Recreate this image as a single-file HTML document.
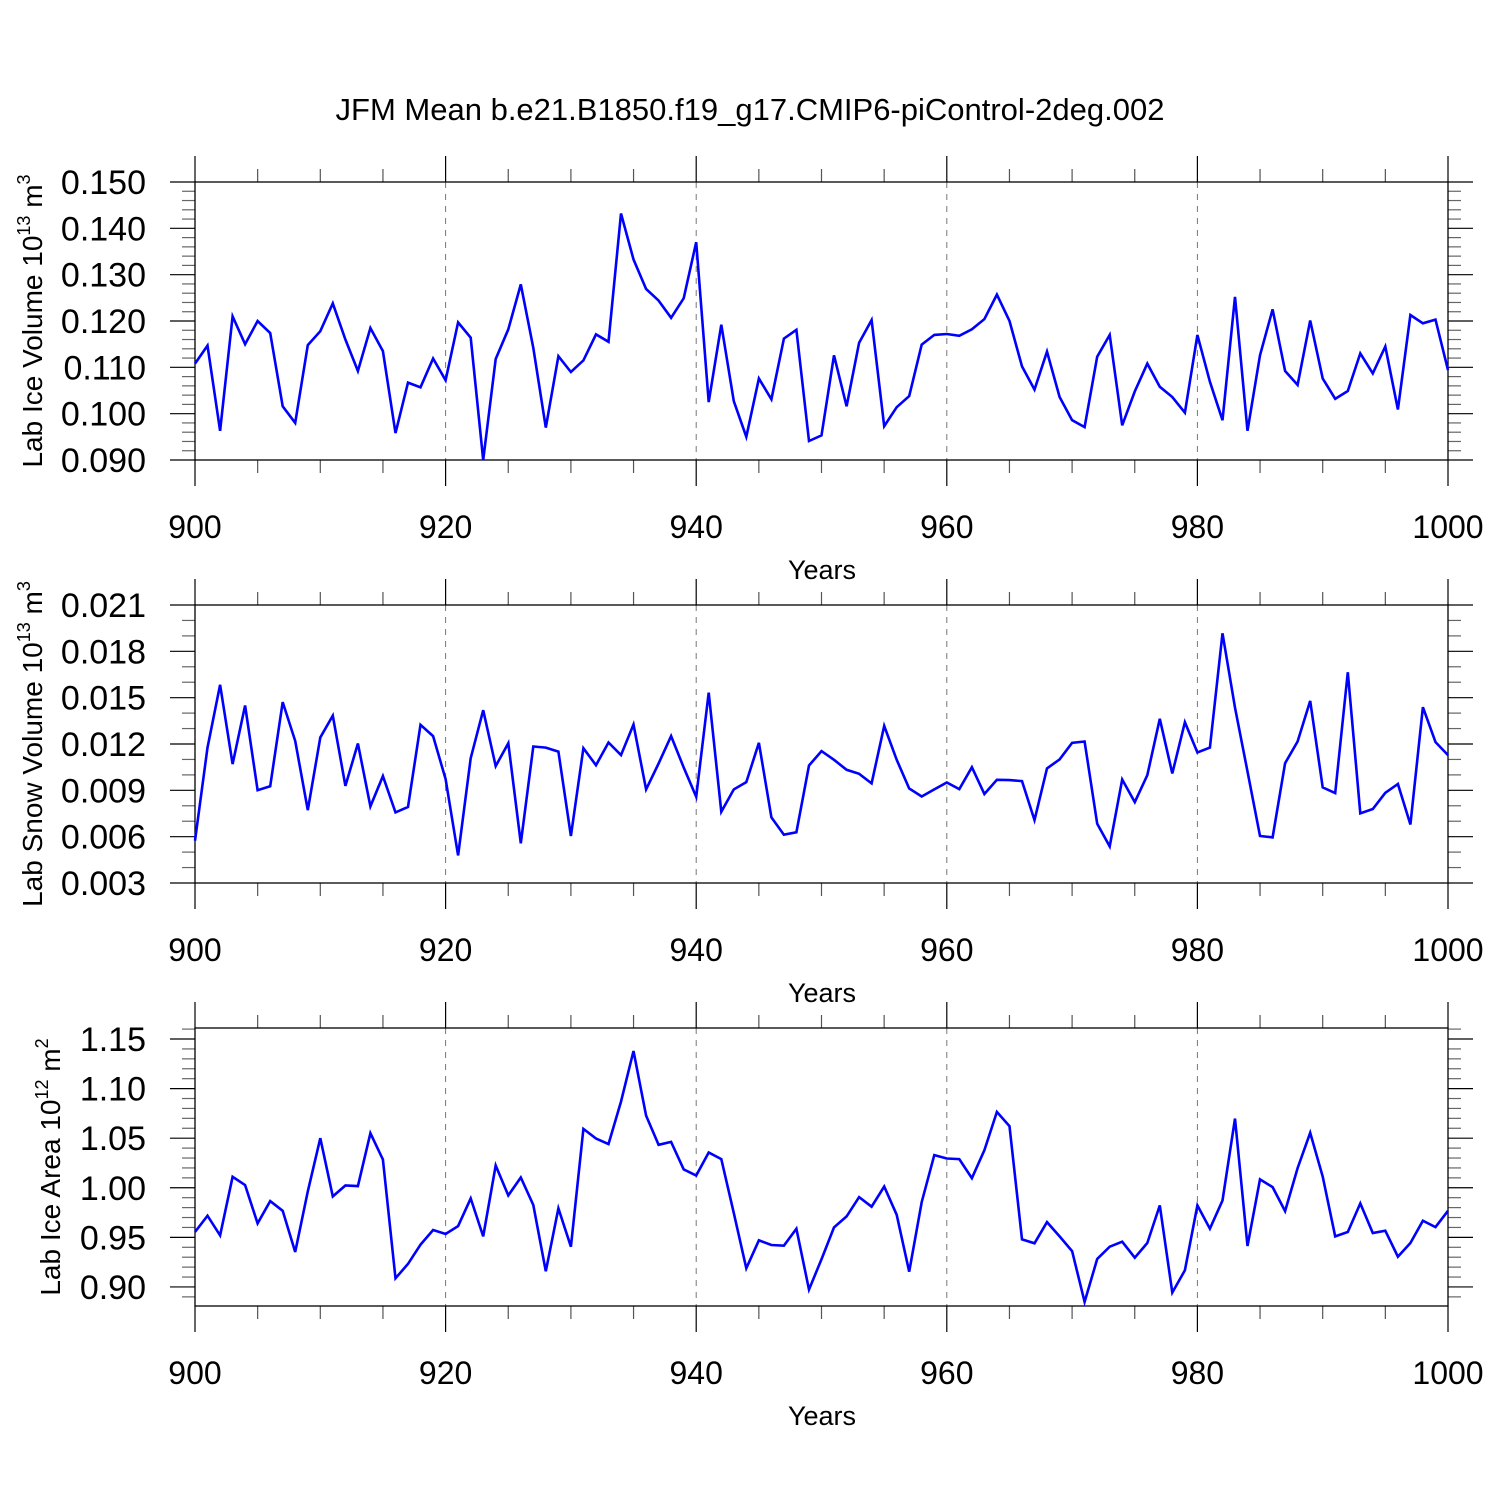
<!DOCTYPE html>
<html><head><meta charset="utf-8">
<style>
html,body{margin:0;padding:0;background:#fff;}
svg{display:block;font-family:"Liberation Sans",Arial,sans-serif;}
</style></head>
<body>
<svg id="chart" width="1500" height="1500" viewBox="0 0 1500 1500" xmlns="http://www.w3.org/2000/svg">
<rect x="0" y="0" width="1500" height="1500" fill="#fff"/>
<text x="750" y="120" font-size="31" text-anchor="middle">JFM Mean b.e21.B1850.f19_g17.CMIP6-piControl-2deg.002</text>
</svg>
<script>
const years = [];
for (let y = 900; y <= 1000; y++) years.push(y);
const iceVolume = [0.1108,0.1147,0.0963,0.1210,0.1150,0.1200,0.1174,0.1016,0.0980,0.1148,
0.1178,0.1238,0.1160,0.1092,0.1185,0.1135,0.0958,0.1067,0.1057,0.1119,
0.1072,0.1197,0.1164,0.0900,0.1118,0.1182,0.1279,0.1142,0.0970,0.1124,
0.1090,0.1115,0.1171,0.1155,0.1432,0.1333,0.1269,0.1244,0.1207,0.1249,
0.1370,0.1025,0.1192,0.1027,0.0950,0.1076,0.1031,0.1162,0.1181,0.0941,
0.0953,0.1126,0.1016,0.1153,0.1202,0.0973,0.1014,0.1038,0.1149,0.1170,
0.1172,0.1168,0.1182,0.1204,0.1257,0.1200,0.1102,0.1052,0.1134,0.1036,
0.0986,0.0971,0.1123,0.1170,0.0975,0.1048,0.1108,0.1058,0.1036,0.1002,
0.1170,0.1069,0.0986,0.1252,0.0963,0.1126,0.1225,0.1092,0.1062,0.1201,
0.1076,0.1032,0.1049,0.1130,0.1087,0.1145,0.1009,0.1213,0.1195,0.1203,0.1094];
const snowVolume = [0.00574,0.01177,0.01583,0.01070,0.01449,0.00901,0.00927,0.01471,0.01220,0.00772,
0.01242,0.01384,0.00929,0.01203,0.00796,0.00992,0.00757,0.00792,0.01324,0.01251,
0.00973,0.00479,0.01108,0.01419,0.01057,0.01205,0.00557,0.01184,0.01177,0.01151,
0.00604,0.01173,0.01063,0.01210,0.01128,0.01326,0.00906,0.01074,0.01251,0.01048,
0.00858,0.01533,0.00761,0.00906,0.00953,0.01208,0.00725,0.00613,0.00628,0.01061,
0.01154,0.01098,0.01033,0.01007,0.00945,0.01317,0.01098,0.00912,0.00860,0.00906,
0.00951,0.00908,0.01050,0.00876,0.00968,0.00966,0.00960,0.00707,0.01042,0.01100,
0.01208,0.01216,0.00684,0.00537,0.00970,0.00824,0.00998,0.01363,0.01009,0.01341,
0.01145,0.01177,0.01917,0.01436,0.01022,0.00604,0.00595,0.01076,0.01216,0.01479,
0.00919,0.00882,0.01665,0.00751,0.00779,0.00884,0.00941,0.00679,0.01438,0.01212,0.01128];
const iceArea = [0.9554,0.9718,0.9520,1.0111,1.0027,0.9641,0.9866,0.9768,0.9352,0.9963,
1.0500,0.9913,1.0023,1.0017,1.0550,1.0285,0.9087,0.9232,0.9426,0.9574,
0.9534,0.9614,0.9893,0.9510,1.0225,0.9923,1.0104,0.9826,0.9158,0.9792,
0.9406,1.0594,1.0497,1.0440,1.0869,1.1379,1.0728,1.0433,1.0463,1.0185,
1.0124,1.0356,1.0289,0.9745,0.9188,0.9470,0.9423,0.9416,0.9587,0.8973,
0.9280,0.9601,0.9711,0.9906,0.9809,1.0013,0.9728,0.9154,0.9856,1.0329,
1.0295,1.0289,1.0097,1.0379,1.0765,1.0621,0.9480,0.9440,0.9654,0.9510,
0.9362,0.8849,0.9282,0.9406,0.9456,0.9295,0.9443,0.9822,0.8943,0.9168,
0.9822,0.9587,0.9872,1.0698,0.9413,1.0084,1.0007,0.9765,1.0198,1.0554,
1.0114,0.9510,0.9554,0.9842,0.9544,0.9567,0.9305,0.9443,0.9668,0.9604,0.9768];
const xTickLabels = ["900","920","940","960","980","1000"];
const iceVolTicks = ["0.090","0.100","0.110","0.120","0.130","0.140","0.150"];
const snowTicks = ["0.003","0.006","0.009","0.012","0.015","0.018","0.021"];
const areaTicks = ["0.90","0.95","1.00","1.05","1.10","1.15"];

const NS = "http://www.w3.org/2000/svg";
const svg = document.getElementById("chart");
const X0 = 195, X1 = 1448;
function mk(tag, attrs, parent) {
  const e = document.createElementNS(NS, tag);
  for (const k in attrs) e.setAttribute(k, attrs[k]);
  (parent || svg).appendChild(e);
  return e;
}
function xs(v) { return X0 + (v - 900) / 100 * (X1 - X0); }

function panel(cfg) {
  const g = mk("g", {});
  
  
  const T = cfg.top, B = cfg.top + 278;
  const ys = v => B - (v - cfg.ymin) / (cfg.ymax - cfg.ymin) * (B - T);
  for (let yr = 920; yr <= 980; yr += 20) {
    const l = mk("line", {x1: xs(yr), x2: xs(yr), y1: T, y2: B, stroke: "#777", "stroke-width": 1, "stroke-dasharray": "6,6"}, g);
    
    
  }
  for (let yr = 900; yr <= 1000; yr += 5) {
    const major = yr % 20 === 0;
    const len = major ? 26 : 13;
    const col = major ? "#000" : "#555";
    mk("line", {x1: xs(yr), x2: xs(yr), y1: T, y2: T - len, stroke: col, "stroke-width": 1.2}, g);
    mk("line", {x1: xs(yr), x2: xs(yr), y1: B, y2: B + len, stroke: col, "stroke-width": 1.2}, g);
  }
  const start = Math.ceil(cfg.ymin / cfg.minor - 1e-6);
  for (let i = start; i * cfg.minor <= cfg.ymax + 1e-9; i++) {
    const v = i * cfg.minor;
    const r = Math.round(v / cfg.major * 1000) / 1000;
    const major = Math.abs(r - Math.round(r)) < 1e-3;
    const len = major ? 25 : 13;
    const col = major ? "#000" : "#666";
    const y = ys(v);
    mk("line", {x1: X0, x2: X0 - len, y1: y, y2: y, stroke: col, "stroke-width": 1.2}, g);
    mk("line", {x1: X1, x2: X1 + len, y1: y, y2: y, stroke: col, "stroke-width": 1.2}, g);
  }
  mk("rect", {x: X0, y: T, width: X1 - X0, height: B - T, fill: "none", stroke: "#000", "stroke-width": 1.3}, g);
  cfg.ticks.forEach(t => {
    const tx = mk("text", {x: 146, y: ys(parseFloat(t)) + 12, "font-size": 34, "text-anchor": "end"}, g);
    tx.textContent = t;
    
    
  });
  xTickLabels.forEach(t => {
    const tx = mk("text", {x: xs(parseFloat(t)), y: B + 78, "font-size": 32, "text-anchor": "middle"}, g);
    tx.textContent = t;
    
    
  });
  const xt = mk("text", {x: 822, y: B + 119, "font-size": 27, "text-anchor": "middle"}, g);
  xt.textContent = "Years";
  
  
  const yt = mk("text", {x: 0, y: 0, "font-size": 28, "text-anchor": "middle", transform: `translate(${cfg.ytx},${(T + B) / 2}) rotate(-90)`}, g);
  
  
  yt.innerHTML = cfg.ytitle;
  const pts = years.map((yr, i) => xs(yr).toFixed(1) + "," + ys(cfg.data[i]).toFixed(1)).join(" ");
  const pl = mk("polyline", {points: pts, fill: "none", stroke: "#0000ff", "stroke-width": 2.6, "stroke-linejoin": "miter"}, g);
  
  
}

panel({name: "ice-volume-panel", top: 182, ymin: 0.090, ymax: 0.150, major: 0.010, minor: 0.002,
  ticks: iceVolTicks, data: iceVolume, ytx: 42,
  ytitle: 'Lab Ice Volume 10<tspan dy="-12" font-size="18">13</tspan><tspan dy="12"> m</tspan><tspan dy="-12" font-size="18">3</tspan>'});
panel({name: "snow-volume-panel", top: 605, ymin: 0.003, ymax: 0.021, major: 0.003, minor: 0.001,
  ticks: snowTicks, data: snowVolume, ytx: 42,
  ytitle: 'Lab Snow Volume 10<tspan dy="-12" font-size="18">13</tspan><tspan dy="12"> m</tspan><tspan dy="-12" font-size="18">3</tspan>'});
panel({name: "ice-area-panel", top: 1028, ymin: 0.8808, ymax: 1.1611, major: 0.05, minor: 0.01,
  ticks: areaTicks, data: iceArea, ytx: 60,
  ytitle: 'Lab Ice Area 10<tspan dy="-12" font-size="18">12</tspan><tspan dy="12"> m</tspan><tspan dy="-12" font-size="18">2</tspan>'});
</script>
</body></html>
